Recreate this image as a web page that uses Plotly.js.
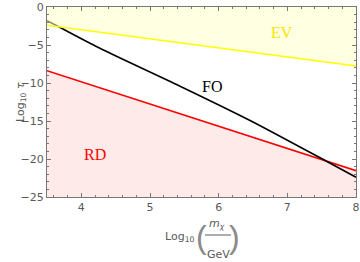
<!DOCTYPE html>
<html>
<head>
<meta charset="utf-8">
<script src="https://cdn.plot.ly/plotly-3.0.1.min.js"></script>
<style>html,body{margin:0;padding:0;background:#fff;}#chart{width:360px;height:262px;}</style>
</head>
<body>
<div id="chart"></div>
<script>
// ---- data ----
const xRange = [3.5, 8];
const yRange = [-25, 0];
const evX = [3.5, 8];
const evY = [-2.4, -7.76];
const rdX = [3.5, 8];
const rdY = [-8.38, -21.54];
const foX = [3.5, 3.65, 4.27, 5.43, 6.45, 7.57, 8];
const foY = [-1.8, -2.5, -5.43, -10.39, -14.9, -20.3, -22.4];
const topY = [0, 0];
const bottomY = [-25, -25];
const labelText = ['EV', 'FO', 'RD'];
const labelX = [6.92, 5.91, 4.2];
const labelY = [-3.36, -10.46, -19.4];
const labelColor = ['#f5e600', '#000000', '#ff0000'];

const grey = '#5a5a5a';
const traces = [
  {x: rdX, y: bottomY, mode: 'lines', line: {width: 0}, hoverinfo: 'skip', showlegend: false},
  {x: rdX, y: rdY, mode: 'lines', fill: 'tonexty', fillcolor: '#ffeaea', line: {color: '#ff0000', width: 1.6}, showlegend: false},
  {x: foX, y: foY, mode: 'lines', line: {color: '#000000', width: 1.6, shape: 'spline', smoothing: 0.8}, showlegend: false},
  {x: evX, y: topY, mode: 'lines', line: {width: 0}, hoverinfo: 'skip', showlegend: false},
  {x: evX, y: evY, mode: 'lines', fill: 'tonexty', fillcolor: 'rgba(255,255,200,0.55)', line: {width: 0}, showlegend: false},
  {x: evX, y: evY, mode: 'lines', line: {color: '#ffff00', width: 1.6}, showlegend: false}
];

const annotations = labelText.map((t, i) => ({
  x: labelX[i], y: labelY[i], xref: 'x', yref: 'y', text: t, showarrow: false,
  font: {family: 'Liberation Serif, serif', size: 16, color: labelColor[i]}
}));

const tf = {family: 'DejaVu Sans, sans-serif', size: 11, color: grey};
// y axis title
annotations.push({xref: 'paper', yref: 'paper', x: 0, y: 0.5, xshift: -35, text: 'Log<sub>10</sub> <i>τ</i>',
  textangle: -90, showarrow: false, font: tf});
// x axis title pieces
const px = p => (p - 47) / 309;
const parenFont = {family: 'Liberation Sans, sans-serif', size: 32, color: '#8a8a8a'};
annotations.push({xref: 'paper', yref: 'paper', x: px(197), y: 0, xanchor: 'right', yanchor: 'middle', yshift: -40,
  text: 'Log<sub>10</sub>', showarrow: false, font: tf});
annotations.push({xref: 'paper', yref: 'paper', x: px(201), y: 0, xanchor: 'center', yanchor: 'middle', yshift: -40,
  text: '(', showarrow: false, font: parenFont});
annotations.push({xref: 'paper', yref: 'paper', x: px(234), y: 0, xanchor: 'center', yanchor: 'middle', yshift: -40,
  text: ')', showarrow: false, font: parenFont});
annotations.push({xref: 'paper', yref: 'paper', x: px(217), y: 0, xanchor: 'center', yanchor: 'middle', yshift: -27,
  text: '<i>m</i><sub><i>χ</i></sub>', showarrow: false, font: tf});
annotations.push({xref: 'paper', yref: 'paper', x: px(218), y: 0, xanchor: 'center', yanchor: 'middle', yshift: -57,
  text: 'GeV', showarrow: false, font: tf});

const layout = {
  width: 360, height: 262,
  margin: {l: 47, r: 4, t: 7, b: 65},
  paper_bgcolor: '#ffffff', plot_bgcolor: '#ffffff',
  showlegend: false,
  xaxis: {
    range: xRange, dtick: 1, tick0: 4, showgrid: false, zeroline: false,
    showline: true, linecolor: '#777', linewidth: 1, mirror: 'ticks',
    ticks: 'inside', ticklen: 4, tickcolor: '#777', tickfont: tf,
    minor: {dtick: 0.2, tick0: 3.6, ticks: 'inside', ticklen: 2, tickcolor: '#777', showgrid: false}
  },
  yaxis: {
    range: yRange, dtick: 5, showgrid: false, zeroline: false,
    showline: true, linecolor: '#777', linewidth: 1, mirror: 'ticks',
    ticks: 'inside', ticklen: 4, tickcolor: '#777', tickfont: tf,
    minor: {dtick: 1, ticks: 'inside', ticklen: 2, tickcolor: '#777', showgrid: false}
  },
  annotations: annotations,
  shapes: [{type: 'line', xref: 'paper', yref: 'paper', x0: px(205), x1: px(231),
    ysizemode: 'pixel', yanchor: 0, y0: -38, y1: -38, line: {color: grey, width: 1}}]
};

Plotly.newPlot('chart', traces, layout, {displayModeBar: false, staticPlot: true});
</script>
</body>
</html>
